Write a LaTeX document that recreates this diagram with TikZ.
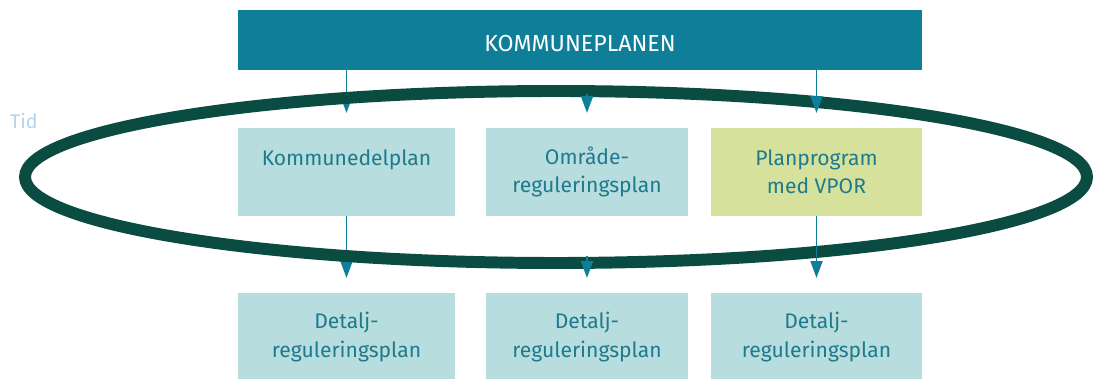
\documentclass[tikz,border=0pt]{standalone}
\usepackage{fontspec}
\setmainfont{Fira Sans}
\usetikzlibrary{arrows.meta}

\definecolor{planteal}{HTML}{0F7E98}
\definecolor{planlight}{HTML}{B7DDDE}
\definecolor{planyellow}{HTML}{D6E29C}
\definecolor{plantext}{HTML}{1E7A8C}
\definecolor{ringgreen}{HTML}{0A4B42}
\definecolor{tidblue}{HTML}{B3D3EE}

\begin{document}
\begin{tikzpicture}[
		x=0.025cm, y=-0.025cm,
		topbox/.style={rectangle,fill=planteal,text=white,minimum width=17.1cm,minimum height=1.5cm,text height=17pt,font=\fontsize{16.5}{18}\selectfont},
		planbox/.style={rectangle,fill=planlight,text=plantext,minimum height=2.2cm,align=center,font=\fontsize{15}{20}\selectfont},
		arr/.style={draw=planteal,line width=1.4pt,-{Triangle[width=8.5pt,length=12pt]},shorten >=10.5pt}
		]
		\useasboundingbox (0,0) rectangle (1097,379);
		\clip (0,0) rectangle (1097,379);
		% top
		\node[topbox] (kp) at (580,40) {KOMMUNEPLANEN};
		\node[text=tidblue,font=\fontsize{14}{16}\selectfont] (tid) at (24,121) {Tid};
		% middle row
		\node[planbox,minimum width=5.425cm] (k1) at (346.5,172) {Kommunedelplan\\\mbox{}};
		\node[planbox,minimum width=5.05cm] (o1) at (587,172) {Område-\\reguleringsplan};
		\node[planbox,fill=planyellow,minimum width=5.275cm] (p1) at (816.5,172) {Planprogram\\med VPOR};
		% bottom row
		\node[planbox,minimum width=5.425cm] (k2) at (346.5,337) {Detalj-\\reguleringsplan};
		\node[planbox,minimum width=5.05cm] (o2) at (587,337) {Detalj-\\reguleringsplan};
		\node[planbox,minimum width=5.275cm] (p2) at (816.5,337) {Detalj-\\reguleringsplan};
		% arrows under the ring
		\draw[arr] (kp.south -| k1.north) -- (k1.north);
		\draw[arr] (k1) -- (k2);
		% ring
		\draw[ringgreen,line width=8.5pt] (556,177) ellipse (531 and 86);
		% arrows over the ring
		\coordinate (oa) at (587,94);
		\coordinate (ob) at (587,256);
		\draw[arr] (oa) -- (o1.north);
		\draw[arr] (kp.south -| p1.north) -- (p1.north);
		\draw[arr] (ob) -- (o2.north);
		\draw[arr] (p1) -- (p2);
\end{tikzpicture}
\end{document}
